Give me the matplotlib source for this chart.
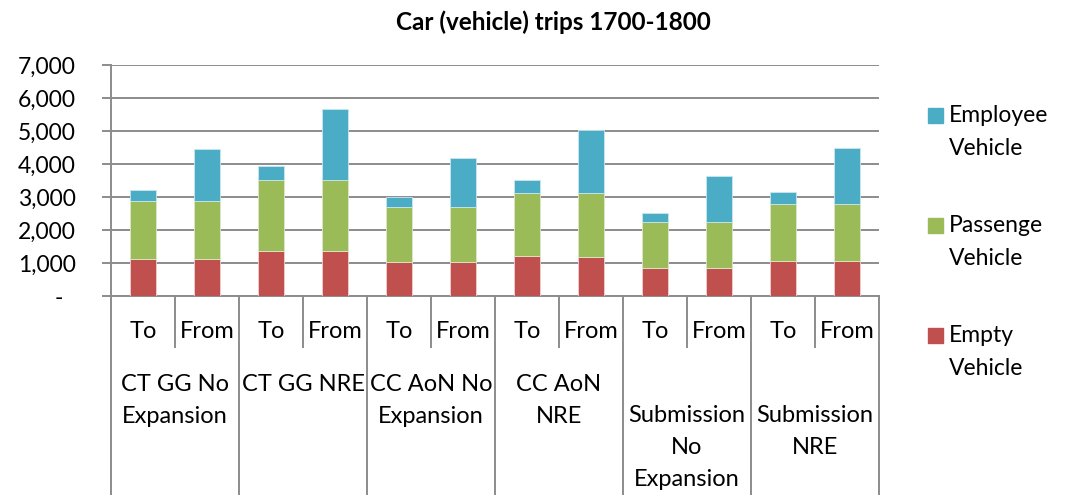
import matplotlib.pyplot as plt
from matplotlib.patches import Rectangle
from matplotlib.ticker import FixedLocator

plt.rcParams['font.family'] = ['Lato', 'DejaVu Sans']

# data
groups = ['CT GG No\nExpansion', 'CT GG NRE', 'CC AoN No\nExpansion', 'CC AoN\nNRE',
          'Submission\nNo\nExpansion', 'Submission\nNRE']
directions = ['To', 'From']
empty = [1110, 1110, 1350, 1350, 1040, 1040, 1210, 1190, 860, 860, 1070, 1070]
passenger = [1770, 1770, 2160, 2160, 1650, 1650, 1915, 1935, 1370, 1370, 1730, 1730]
employee = [320, 1570, 420, 2145, 300, 1485, 395, 1915, 280, 1400, 335, 1695]
series_names = ['Employee\nVehicle', 'Passenge\nVehicle', 'Empty\nVehicle']
colors = ['#4BACC6', '#9BBB59', '#C0504D']
yticks = [0, 1000, 2000, 3000, 4000, 5000, 6000, 7000]
title = 'Car (vehicle) trips 1700-1800'

fig = plt.figure(figsize=(10.79, 4.95), dpi=100)
ax = fig.add_axes([0.1029, 0.402, 0.7117, 0.467])

x = list(range(len(empty)))
bottom2 = [a + b for a, b in zip(empty, passenger)]
ax.bar(x, empty, width=0.4, color=colors[2], edgecolor='#f2d0cf', linewidth=0.6, zorder=3)
ax.bar(x, passenger, bottom=empty, width=0.4, color=colors[1], edgecolor='#dde9c8', linewidth=0.6, zorder=3)
ax.bar(x, employee, bottom=bottom2, width=0.4, color=colors[0], edgecolor='#c9e7ef', linewidth=0.6, zorder=3)

ax.set_xlim(-0.5, len(x) - 0.5)
ax.set_ylim(0, 7000)
ax.yaxis.set_major_locator(FixedLocator(yticks))
ax.set_yticklabels(['-  '] + [f'{v:,}' for v in yticks[1:]], fontsize=16.5)
ax.grid(axis='y', color='#8c8c8c', linewidth=1.4, zorder=0)
ax.tick_params(axis='y', length=6.5, width=1.4, color='#8c8c8c', pad=19)
ax.set_xticks([])
for s in ['top', 'right']:
    ax.spines[s].set_visible(False)
ax.spines['left'].set_color('#8c8c8c')
ax.spines['left'].set_linewidth(1.4)
ax.spines['bottom'].set_color('#8c8c8c')
ax.spines['bottom'].set_linewidth(1.4)

# multi-level category axis
tr = ax.get_xaxis_transform()
for i in range(len(x) + 1):
    b = i - 0.5
    low = -0.862 if i % 2 == 0 else -0.221
    ax.plot([b, b], [0, low], transform=tr, color='#8c8c8c', lw=1.4, clip_on=False)
for i in x:
    ax.text(i, -0.152, directions[i % 2], transform=tr, ha='center', va='center', fontsize=17)
label_rows = [0, 0, 0, 0, 1, 1]
row_h = 31.5 / 231
for g, name in enumerate(groups):
    ax.text(2 * g + 0.5, -0.336 - row_h * label_rows[g], name, transform=tr,
            ha='center', va='top', fontsize=17, linespacing=1.64)

fig.text(0.513, 0.955, title, ha='center', va='center', fontsize=17.5, fontweight='bold')

# legend
for k, (name, c) in enumerate(zip(series_names, colors)):
    ytop = 108 + 110 * k
    fig.add_artist(Rectangle((928 / 1079, 1 - (ytop + 15) / 495), 15 / 1079, 15 / 495,
                             transform=fig.transFigure, color=c))
    fig.text(949 / 1079, 1 - (ytop - 3) / 495, name, ha='left', va='top',
             fontsize=16.5, linespacing=1.68)

fig.savefig('out.png', dpi=100)
